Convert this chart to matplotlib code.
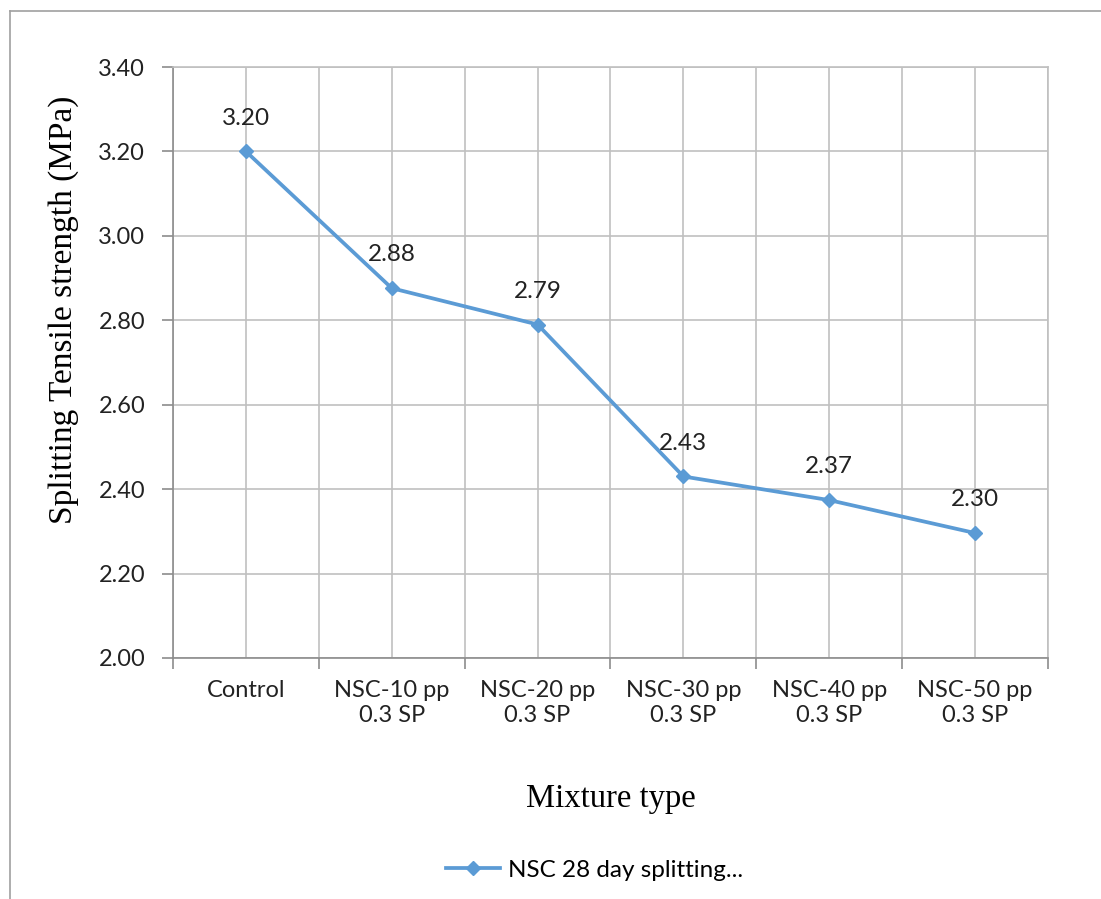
import numpy as np
import matplotlib.pyplot as plt
from matplotlib.lines import Line2D

## Chart data
mixtures = ['Control', 'NSC-10 pp\n0.3 SP', 'NSC-20 pp\n0.3 SP', 'NSC-30 pp\n0.3 SP',
            'NSC-40 pp\n0.3 SP', 'NSC-50 pp\n0.3 SP']
strength = [3.20, 2.876, 2.79, 2.43, 2.374, 2.296]
y_ticks = [2.00, 2.20, 2.40, 2.60, 2.80, 3.00, 3.20, 3.40]

blue = '#5B9BD5'
grid_c = '#C0C0C0'
axis_c = '#8C8C8C'
sans = ['Lato', 'DejaVu Sans']
serif = ['Liberation Serif', 'DejaVu Serif']

fig = plt.figure(figsize=(11.01, 8.99), dpi=100)
ax = fig.add_axes([173/1101, 1 - 658/899, (1048 - 173)/1101, (658 - 67)/899])

x = np.arange(len(mixtures))
ax.plot(x, strength, color=blue, lw=2.7, marker='D', ms=7.5, label='NSC 28 day splitting...')

## data labels above each point
for xi, v in zip(x, strength):
    ax.annotate(f'{v:.2f}', (xi, v), xytext=(0, 24), textcoords='offset points',
                ha='center', va='center', fontsize=17.5, family=sans, color='#222222')

ax.set_xlim(-0.5, len(mixtures) - 0.5)
ax.set_ylim(2.0, 3.4)
ax.set_yticks(y_ticks)
ax.set_yticklabels([f'{t:.2f}' for t in y_ticks], family=sans, fontsize=17)
ax.set_xticks(x)
ax.set_xticklabels(mixtures, family=sans, fontsize=17, linespacing=1.25)
ax.set_xticks(np.arange(-0.5, len(mixtures)), minor=True)

ax.grid(True, which='both', color=grid_c, lw=1.2)
ax.set_axisbelow(True)
ax.tick_params(axis='x', which='major', length=0, pad=16, colors='#222222')
ax.tick_params(axis='x', which='minor', length=8, width=1.2, color=axis_c)
ax.tick_params(axis='y', length=8, width=1.2, color=axis_c, pad=12, labelcolor='#222222')
for side in ['top', 'right']:
    ax.spines[side].set_color(grid_c)
    ax.spines[side].set_linewidth(1.2)
for side in ['left', 'bottom']:
    ax.spines[side].set_color(axis_c)
    ax.spines[side].set_linewidth(1.2)

ax.set_ylabel('Splitting Tensile strength (MPa)', family=serif, fontsize=24, labelpad=14)
ax.yaxis.label.set_y(0.589)  ## label sits a bit above the axis centre
ax.set_xlabel('Mixture type', family=serif, fontsize=23.5, labelpad=41)

ax.legend(loc='center', bbox_to_anchor=(595/1101, 1 - 870/899), bbox_transform=fig.transFigure,
          frameon=False, prop={'family': sans, 'size': 17.5}, handlelength=2.2,
          handletextpad=0.35)

## outer chart border (left and top only visible)
fig.add_artist(Line2D([10/1101, 10/1101], [0, 1 - 11/899], transform=fig.transFigure,
                      color='#A0A0A0', lw=1.2))
fig.add_artist(Line2D([10/1101, 1], [1 - 11/899, 1 - 11/899], transform=fig.transFigure,
                      color='#A0A0A0', lw=1.2))

plt.savefig('out.png', dpi=100)
